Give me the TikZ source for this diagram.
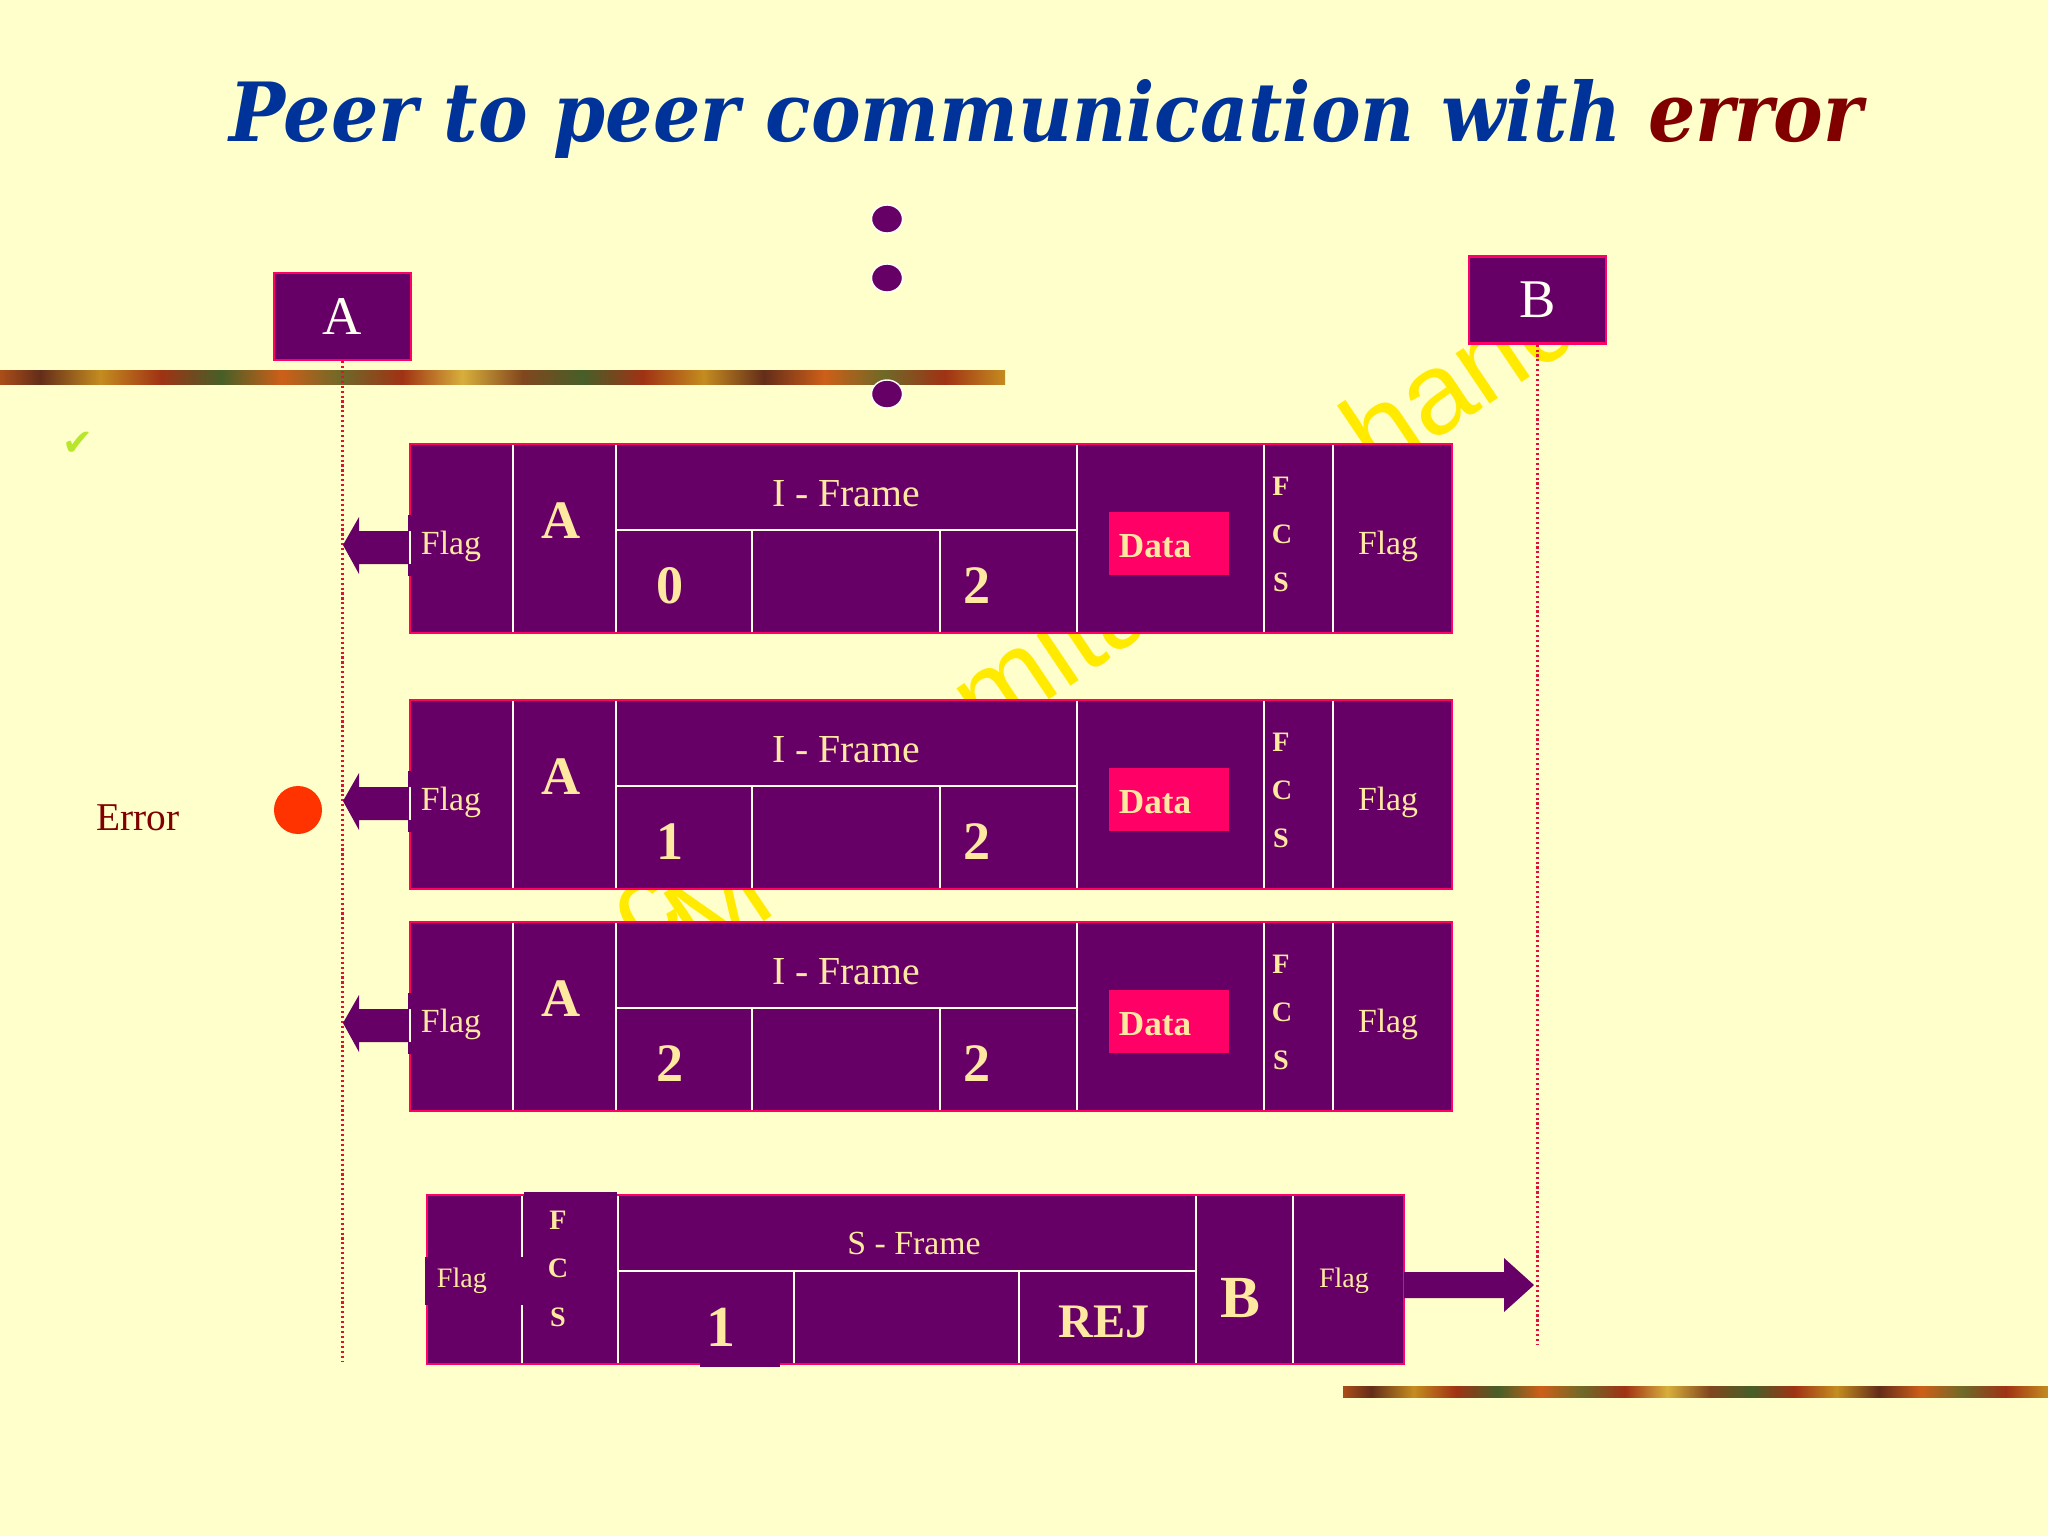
\documentclass[tikz,border=0pt]{standalone}
\usepackage{fontspec}
\usepackage{graphicx}
\setmainfont{Liberation Serif}
\newfontfamily\titlefont{DejaVu Serif}
\newfontfamily\wmfont{Liberation Sans}
\newfontfamily\symfont{DejaVu Sans}
\usetikzlibrary{shapes.geometric}
\definecolor{bgcol}{HTML}{FFFFCC}
\definecolor{fpurple}{HTML}{660066}
\definecolor{fpink}{HTML}{FF0066}
\definecolor{fcream}{HTML}{FFFFE6}
\definecolor{ftext}{HTML}{FFE9A0}
\definecolor{hosttext}{HTML}{FFFFF2}
\definecolor{datapink}{HTML}{FF0066}
\definecolor{titleblue}{HTML}{003399}
\definecolor{errorred}{HTML}{800000}
\definecolor{errdot}{HTML}{FF3300}
\definecolor{lifered}{HTML}{E0103C}
\definecolor{chkgreen}{HTML}{B8E62A}
\definecolor{wmyellow}{HTML}{FFEA00}
\definecolor{bgold}{RGB}{196,140,32}
\definecolor{bbrown}{RGB}{130,70,30}
\definecolor{bred}{RGB}{160,50,20}
\definecolor{bolive}{RGB}{110,105,40}
\definecolor{bgreen}{RGB}{70,95,40}
\definecolor{borange}{RGB}{205,95,25}
\definecolor{byellow}{RGB}{215,175,60}
\definecolor{bdark}{RGB}{100,45,25}
\pgfdeclarehorizontalshading{bandshade}{100bp}{color(0bp)=(bgold); color(3bp)=(borange); color(6bp)=(bolive); color(9bp)=(bbrown); color(12bp)=(bgreen); color(15bp)=(bred); color(18bp)=(byellow); color(21bp)=(bbrown); color(24bp)=(borange); color(27bp)=(bdark); color(30bp)=(bgold); color(33bp)=(bred); color(36bp)=(bgreen); color(39bp)=(borange); color(42bp)=(bolive); color(45bp)=(bred); color(48bp)=(byellow); color(51bp)=(bbrown); color(54bp)=(bgreen); color(57bp)=(bred); color(60bp)=(bgold); color(63bp)=(bdark); color(66bp)=(borange); color(69bp)=(bolive); color(72bp)=(bred); color(75bp)=(bgold); color(78bp)=(bbrown); color(81bp)=(bgreen); color(84bp)=(borange); color(87bp)=(bdark); color(90bp)=(byellow); color(93bp)=(bred); color(96bp)=(bolive); color(100bp)=(bgold)}
\newcommand\fsz[1]{\fontsize{#1}{#1}\selectfont}
\tikzset{
  framefill/.style={fill=fpurple},
  border/.style={draw=fpink, line width=0.6pt},
  div/.style={draw=fcream, line width=0.55pt},
  ftxt/.style={inner sep=0pt, text=ftext},
  hostbox/.style={fill=fpurple, draw=fpink, line width=0.6pt, minimum width=1.37cm, minimum height=0.87cm, inner sep=0pt, text=hosttext, font=\fsz{15.5}},
  lifeline/.style={draw=lifered, line width=0.6pt, dash pattern=on 0.6pt off 0.8pt},
  wm/.style={rotate=34, inner sep=0pt, anchor=base west, text=wmyellow, font=\wmfont\fsz{32.7}},
  dotstyle/.style={ellipse, fill=fpurple, draw=white, line width=0.4pt, minimum width=0.31cm, minimum height=0.28cm, inner sep=0pt},
  band/.style={shading=bandshade}
}
\newcommand\IFrame[3]{%
\begin{scope}[shift={(0,#2)}]
  \path[framefill] (410,0) rectangle (1452,189);
  \draw[div] (513,0) -- (513,189);
  \draw[div] (616,0) -- (616,189);
  \draw[div] (1077,0) -- (1077,189);
  \draw[div] (1264,0) -- (1264,189);
  \draw[div] (1333,0) -- (1333,189);
  \draw[div] (616,86) -- (1077,86);
  \draw[div] (752,86) -- (752,189);
  \draw[div] (940,86) -- (940,189);
  \fill[datapink] (1109,68) rectangle (1229,131);
  \draw[border] (410,0) rectangle (1452,189);
  \fill[fpurple] (343,101) -- (359,73) -- (359,87) -- (410,87) -- (410,120) -- (359,120) -- (359,130) -- cycle;
  \fill[fpurple] (408,71) rectangle (412,132);
  \draw[div] (410,87) -- (410,120);
  \node[ftxt, font=\fsz{9.6}] (#1flagL) at (451,102) {Flag};
  \node[ftxt, font=\bfseries\fsz{15.4}] (#1addr) at (561,77) {A};
  \node[ftxt, font=\fsz{11.3}] (#1kind) at (846,50) {I - Frame};
  \node[ftxt, font=\bfseries\fsz{15.4}] (#1ns) at (670,142) {#3};
  \node[ftxt, font=\bfseries\fsz{15.4}] (#1nr) at (977,142) {2};
  \node[ftxt, font=\bfseries\fsz{10}] (#1data) at (1155,102) {Data};
  \node[ftxt, font=\bfseries\fsz{8}] (#1fcsF) at (1281,42) {F};
  \node[ftxt, font=\bfseries\fsz{8}] (#1fcsC) at (1282,90) {C};
  \node[ftxt, font=\bfseries\fsz{8}] (#1fcsS) at (1281,138) {S};
  \node[ftxt, font=\fsz{9.6}] (#1flagR) at (1388,102) {Flag};
\end{scope}}
\begin{document}
\begin{tikzpicture}[x=0.01cm,y=-0.01cm]
\useasboundingbox (0,0) rectangle (2048,1536);
\fill[bgcol] (0,0) rectangle (2048,1536);
% title
\node[anchor=base west, inner sep=0pt] (title) at (229,141) {\resizebox{16.32cm}{0.62cm}{\titlefont\bfseries\itshape\color{titleblue}Peer to peer communication with \color{errorred}error}};
% watermark fragments (mostly hidden behind the frames)
\node[wm] (wm1) at (640,955) {c};
\node[wm] (wm2) at (700,965) {M};
\node[wm] (wm3) at (984,744) {mita};
\node[wm] (wm4) at (1377,480) {hand};
% bands
\shade[band] (0,370) rectangle (1005,384);
\shade[band] (1343,1386) rectangle (2048,1397);
% dots
\node[dotstyle] (dot1) at (887,219) {};
\node[dotstyle] (dot2) at (887,278) {};
\node[dotstyle] (dot3) at (887,394) {};
% hosts and lifelines
\node[hostbox] (hostA) at (342.5,316.5) {A};
\node[hostbox] (hostB) at (1537.5,300) {B};
\coordinate (Aend) at (342.5,1362);
\coordinate (Bend) at (1537.5,1345);
\draw[lifeline] (hostA.south) -- (Aend);
\draw[lifeline] (hostB.south) -- (Bend);
% check mark
\node[inner sep=0pt, text=chkgreen, font=\symfont\fsz{10.5}] (chk) at (78,444) {✔};
% error
\node[inner sep=0pt, text=errorred, font=\fsz{11.2}] (errlbl) at (138,818) {Error};
\node[circle, fill=errdot, minimum size=0.48cm, inner sep=0pt] (errdot) at (298,810) {};
% I-frames
\IFrame{fa}{444}{0}
\IFrame{fb}{700}{1}
\IFrame{fc}{922}{2}
% S-frame
\begin{scope}[shift={(0,1195)}]
  \path[framefill] (427,0) rectangle (1404,169);
  \draw[div] (522,0) -- (522,62);
  \draw[div] (522,110) -- (522,169);
  \draw[div] (618,0) -- (618,169);
  \draw[div] (1196,0) -- (1196,169);
  \draw[div] (1293,0) -- (1293,169);
  \draw[div] (618,76) -- (1196,76);
  \draw[div] (794,76) -- (794,169);
  \draw[div] (1019,76) -- (1019,169);
  \draw[border] (427,0) rectangle (1404,169);
  \fill[fpurple] (524,-3) rectangle (617,2);
  \fill[fpurple] (700,167) rectangle (780,172);
  \fill[fpurple] (425,62) rectangle (429,110);
  \fill[fpurple] (1404,77) -- (1504,77) -- (1504,63) -- (1534,90) -- (1504,117) -- (1504,103) -- (1404,103) -- cycle;
  \node[ftxt, font=\fsz{8}] (sflagL) at (462,86) {Flag};
  \node[ftxt, font=\bfseries\fsz{8}] (sfcsF) at (558,25) {F};
  \node[ftxt, font=\bfseries\fsz{8}] (sfcsC) at (558,73) {C};
  \node[ftxt, font=\bfseries\fsz{8}] (sfcsS) at (558,122) {S};
  \node[ftxt, font=\fsz{9.6}] (skind) at (914,48) {S - Frame};
  \node[ftxt, font=\bfseries\fsz{16.5}] (snr) at (721,132) {1};
  \node[ftxt, font=\bfseries\fsz{13.7}] (srej) at (1104,127) {REJ};
  \node[ftxt, font=\bfseries\fsz{17}] (saddr) at (1240,103) {B};
  \node[ftxt, font=\fsz{8}] (sflagR) at (1344,86) {Flag};
\end{scope}
\end{tikzpicture}
\end{document}
